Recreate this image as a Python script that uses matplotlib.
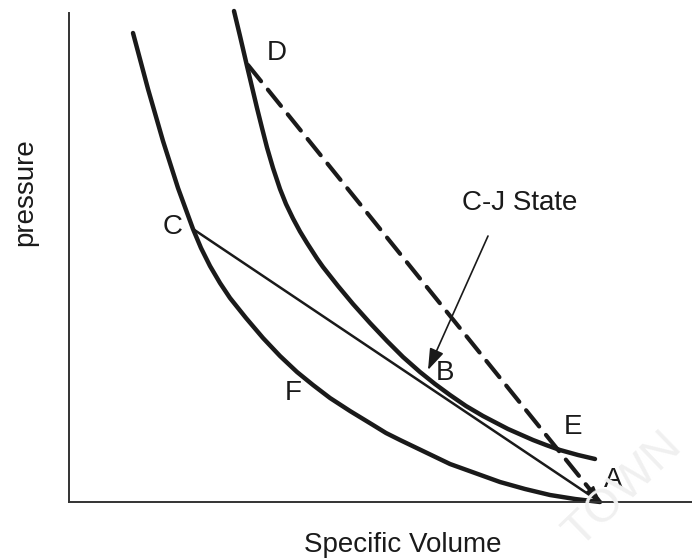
import matplotlib
matplotlib.use("Agg")
import matplotlib.pyplot as plt

plt.rcParams['font.family'] = ['Liberation Sans', 'DejaVu Sans']

# Hugoniot curves (specific volume, pressure)
unreacted_v = [0.64, 0.79, 0.94, 1.09, 1.24, 1.32, 1.41, 1.51, 1.61, 1.77, 1.94, 2.11, 2.28, 2.44,
               2.61, 2.81, 3.04, 3.17, 3.31, 3.56, 3.81, 4.06, 4.31, 4.56, 4.81, 5.06, 5.31]
unreacted_p = [4.69, 4.13, 3.61, 3.14, 2.73, 2.54, 2.36, 2.19, 2.04, 1.84, 1.64, 1.46, 1.30, 1.17,
               1.04, 0.91, 0.77, 0.69, 0.62, 0.50, 0.38, 0.29, 0.20, 0.13, 0.07, 0.03, 0.00]

reacted_v = [1.65, 1.71, 1.78, 1.88, 1.93, 1.98, 2.04, 2.11, 2.17, 2.24, 2.31, 2.38, 2.48, 2.54, 2.69,
             2.84, 3.01, 3.18, 3.34, 3.51, 3.66, 3.81, 3.97, 4.14, 4.39, 4.64, 4.77, 4.91, 5.09, 5.26]
reacted_p = [4.91, 4.66, 4.36, 3.94, 3.74, 3.545, 3.34, 3.13, 2.98, 2.835, 2.705, 2.59, 2.435, 2.35, 2.16,
             1.98, 1.79, 1.61, 1.45, 1.30, 1.18, 1.07, 0.96, 0.86, 0.73, 0.62, 0.57, 0.52, 0.47, 0.43]

# Rayleigh lines
rayleigh_v = [1.24, 5.31]
rayleigh_p = [2.73, 0.00]
dashed_v = [1.79, 5.31]
dashed_p = [4.37, 0.00]

# point labels
labels = ["D", "C", "F", "B", "E", "A"]
label_v = [2.08, 1.04, 2.24, 3.76, 5.04, 5.44]
label_p = [4.49, 2.75, 1.09, 1.29, 0.75, 0.22]

cj_tip = (3.59, 1.32)
cj_tail = (4.19, 2.66)
cj_text = (4.51, 2.99)

fig = plt.figure(figsize=(6.92, 5.6), dpi=100)
ax = fig.add_axes([69 / 692, 58 / 560, 623 / 692, 489 / 560])
ax.set_xlim(0, 6.23)
ax.set_ylim(0, 4.89)

ink = '#1a1a1a'
ax.plot(unreacted_v, unreacted_p, color=ink, lw=3.2, solid_capstyle='round',
        solid_joinstyle='round', clip_on=False)
ax.plot(reacted_v, reacted_p, color=ink, lw=3.2, solid_capstyle='round',
        solid_joinstyle='round', clip_on=False)
ax.plot(rayleigh_v, rayleigh_p, color=ink, lw=1.8, clip_on=False)
ax.plot(dashed_v, dashed_p, color=ink, lw=3.0, dashes=(5, 2.6), dash_capstyle='round', clip_on=False)

# small head where the dashed line meets A
ax.annotate('', xy=(dashed_v[1], dashed_p[1]),
            xytext=(dashed_v[1] - 0.12, dashed_p[1] + 0.15),
            arrowprops=dict(arrowstyle='-|>,head_length=0.9,head_width=0.3', color=ink, lw=1.5,
                            shrinkA=0, shrinkB=0))

for lab, v, p in zip(labels, label_v, label_p):
    ax.text(v, p, lab, fontsize=20, ha='center', va='center', color=ink)

ax.annotate('', xy=cj_tip, xytext=cj_tail,
            arrowprops=dict(arrowstyle='-|>,head_length=1.3,head_width=0.45', color=ink, lw=1.2,
                            shrinkA=0, shrinkB=0))
ax.text(*cj_text, 'C-J State', fontsize=20, ha='center', va='center', color=ink)

ax.set_xticks([])
ax.set_yticks([])
for side in ['top', 'right']:
    ax.spines[side].set_visible(False)
for side in ['left', 'bottom']:
    ax.spines[side].set_linewidth(1.4)
    ax.spines[side].set_color('#333333')

ax.set_xlabel('Specific Volume', fontsize=20, color=ink)
ax.xaxis.set_label_coords(0.535, -0.088)
ax.xaxis.label.set_va('center')
ax.set_ylabel('pressure', fontsize=20, color=ink)
ax.yaxis.set_label_coords(-0.071, 0.634)
ax.yaxis.label.set_va('center')

# faint watermark
fig.text(0.9, 0.125, 'TOWN', fontsize=34, rotation=44, color='#f0f0f0',
         ha='center', va='center', zorder=0)

fig.savefig('out.png', dpi=100)
